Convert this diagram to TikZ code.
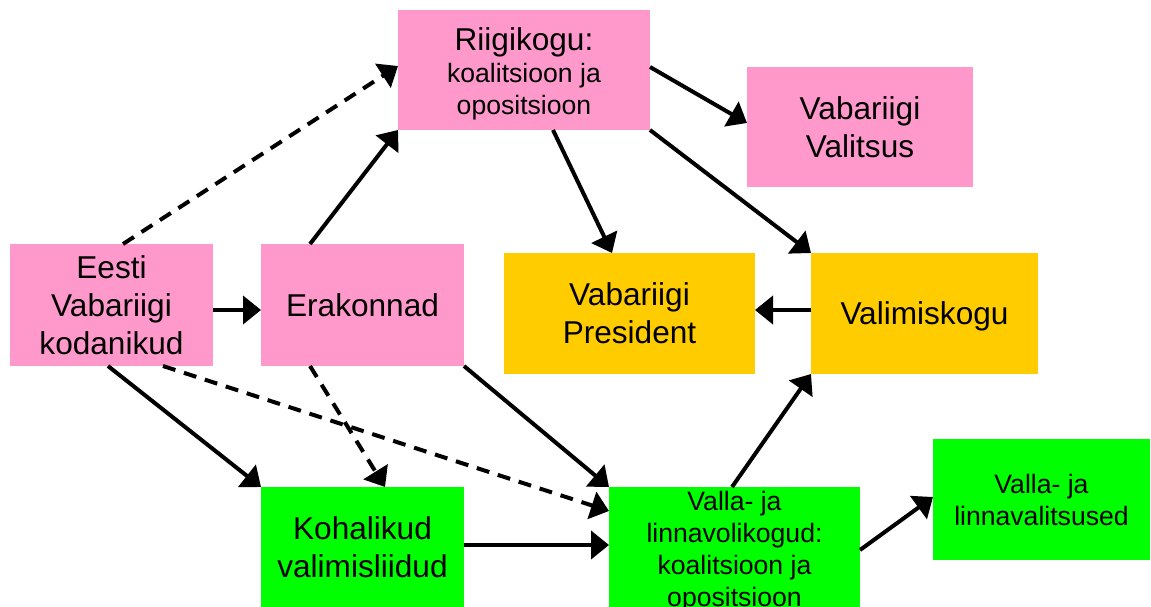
\documentclass[tikz,border=0pt]{standalone}
\usepackage{fontspec}
\setmainfont{Liberation Sans}
\usetikzlibrary{arrows.meta}
\definecolor{pinkbox}{HTML}{FF99CC}
\definecolor{orangebox}{HTML}{FFCC00}
\definecolor{greenbox}{HTML}{00FF00}
\newcommand{\mybigfont}{\fontsize{31.6}{38}\selectfont}
\newcommand{\mysmallfont}{\fontsize{26.6}{32}\selectfont}
\begin{document}
\begin{tikzpicture}[x=1pt,y=-1pt,
  box/.style={rectangle, inner sep=0pt, outer sep=0pt, align=center, font=\mybigfont},
  pinkb/.style={box, fill=pinkbox},
  orangeb/.style={box, fill=orangebox},
  greenb/.style={box, fill=greenbox},
  conn/.style={line width=4pt, -{Triangle[length=18pt,width=28pt]}},
  dconn/.style={conn, dash pattern=on 13pt off 9pt}]
\useasboundingbox (0,0) rectangle (1151,606);

\node[pinkb, minimum width=252pt, minimum height=120pt, font=\mysmallfont] (rk) at (524,70)
  {{\fontsize{31.6}{32}\selectfont\rule{0pt}{31pt}Riigikogu:}\\koalitsioon ja\\opositsioon};
\node[pinkb, minimum width=226pt, minimum height=120pt] (vv) at (860,127) {Vabariigi\\Valitsus};
\node[pinkb, minimum width=203pt, minimum height=122pt] (ek) at (111.5,305) {Eesti\\Vabariigi\\kodanikud};
\node[pinkb, minimum width=203pt, minimum height=122pt] (er) at (362.5,305) {Erakonnad};
\node[orangeb, minimum width=251pt, minimum height=121pt] (vp) at (629.5,313.5) {Vabariigi\\President};
\node[orangeb, minimum width=227pt, minimum height=121pt] (vk) at (924.5,313.5) {\rule{0pt}{29pt}Valimiskogu};
\node[greenb, minimum width=203pt, minimum height=120pt] (kv) at (362.5,547) {Kohalikud\\valimisliidud};
\node[greenb, minimum width=251pt, minimum height=120pt, font=\mysmallfont] (lv) at (734.5,547)
  {\rule{0pt}{22pt}Valla- ja\\linnavolikogud:\\koalitsioon ja\\\raisebox{0pt}[\height][0pt]{opositsioon}};
\node[greenb, minimum width=217pt, minimum height=121pt, font=\mysmallfont] (lvs) at (1041.5,499.5)
  {Valla- ja\\linnavalitsused};

\draw[conn] ([yshift=-5pt]ek.east) -- ([yshift=-5pt]er.west);
\draw[conn] ([xshift=-52.5pt]er.north) -- (rk.south west);
\draw[dconn] ([xshift=11.5pt]ek.north) -- ([yshift=4pt]rk.west);
\draw[conn] ([yshift=3pt]rk.east) -- ([yshift=4pt]vv.west);
\draw[conn] ([xshift=29pt]rk.south) -- ([xshift=-17.5pt]vp.north);
\draw[conn] (rk.south east) -- (vk.north west);
\draw[conn] ([yshift=3.5pt]vk.west) -- ([yshift=3.5pt]vp.east);
\draw[conn] ([xshift=-3.5pt]ek.south) -- (kv.north west);
\draw[dconn] ([xshift=51.5pt]ek.south) -- ([yshift=36pt]lv.west);
\draw[dconn] ([xshift=-52.5pt]er.south) -- ([xshift=22.5pt]kv.north);
\draw[conn] (er.south east) -- (lv.north west);
\draw[conn] ([yshift=2pt]kv.east) -- ([yshift=2pt]lv.west);
\draw[conn] ([xshift=-2.5pt]lv.north) -- (vk.south west);
\draw[conn] ([yshift=-3pt]lv.east) -- ([yshift=2.5pt]lvs.west);
\end{tikzpicture}
\end{document}
